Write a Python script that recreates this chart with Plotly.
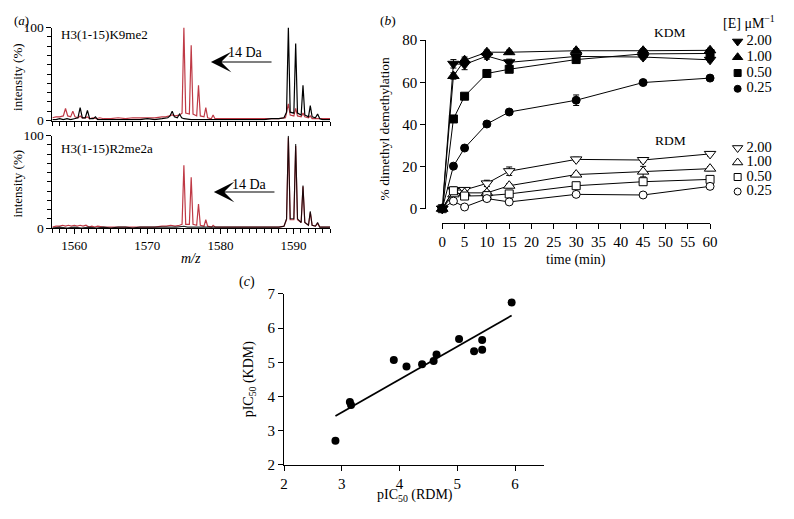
import numpy as np
import plotly.graph_objects as go

# The page keeps the browser's default 8 px body margin, so the figure is made
# 16 px smaller than the window and positions are given in window pixels.
WIN_W, WIN_H, OFF = 794, 519, 8
W, H = WIN_W - 2 * OFF, WIN_H - 2 * OFF
FONT = "Liberation Serif"
RED = "#bf3a46"

def px(x):
    return (x - OFF) / W

def py(y):
    return 1 - (y - OFF) / H

# ---------------- Panel (a): mass spectra ----------------
k9_red_mz = [1557.0, 1557.5, 1558.0, 1558.5, 1558.8, 1559.1, 1559.5, 1559.8, 1560.1, 1560.5, 1560.8, 1561.1,
             1561.5, 1561.8, 1562.1, 1562.5, 1563.0, 1563.5, 1564.0, 1565.0, 1566.0, 1567.0, 1568.0, 1569.0,
             1570.0, 1571.0, 1572.0, 1572.5, 1573.0, 1573.4, 1573.8, 1574.4, 1574.75, 1575.0, 1575.25, 1575.75,
             1576.0, 1576.25, 1576.75, 1577.0, 1577.25, 1577.75, 1578.0, 1578.25, 1578.75, 1579.0, 1579.25,
             1580.0, 1581.0, 1582.0, 1583.0, 1584.0, 1585.0, 1586.0, 1587.0, 1588.0, 1588.9, 1589.3, 1589.55,
             1590.05, 1590.3, 1590.55, 1591.05, 1591.3, 1591.55, 1592.05, 1592.3, 1592.55, 1593.0, 1594.0, 1595.0]
k9_red_int = [3, 4, 4, 5, 13, 5, 4, 10, 4, 3, 5, 3,
              3, 4, 2, 3, 2, 3, 2, 2, 3, 2, 3, 3,
              3, 3, 4, 4, 5, 6, 5, 6, 8, 100, 8, 7,
              81, 7, 5, 38, 5, 4, 14, 3, 2, 6, 2,
              2, 2, 2, 2, 2, 2, 2, 2, 2, 3, 18, 6,
              5, 13, 5, 4, 8, 4, 3, 5, 2, 2, 2, 2]

k9_blk_mz = [1557.0, 1557.5, 1558.0, 1558.5, 1559.0, 1559.5, 1560.0, 1560.5, 1560.8, 1561.1, 1561.5, 1561.8,
             1562.1, 1562.6, 1562.9, 1563.2, 1564.0, 1565.0, 1566.0, 1567.0, 1568.0, 1569.0, 1570.0, 1571.0,
             1572.0, 1572.8, 1573.1, 1573.4, 1573.7, 1574.1, 1574.4, 1574.7, 1575.0, 1576.0, 1577.0, 1578.0,
             1579.0, 1580.0, 1581.0, 1582.0, 1583.0, 1584.0, 1585.0, 1586.0, 1587.0, 1588.0, 1588.7, 1589.05,
             1589.3, 1589.55, 1590.05, 1590.3, 1590.55, 1591.05, 1591.3, 1591.55, 1592.05, 1592.3, 1592.55,
             1593.0, 1593.3, 1593.6, 1594.0, 1595.0]
k9_blk_int = [1, 1, 2, 1, 2, 1, 2, 3, 14, 3, 3, 11,
              2, 2, 4, 1, 1, 1, 1, 1, 1, 1, 2, 1,
              2, 3, 5, 10, 4, 3, 7, 3, 2, 1, 1, 1,
              1, 1, 1, 1, 1, 1, 1, 1, 2, 2, 3, 9,
              100, 9, 8, 83, 8, 6, 38, 6, 4, 16, 4,
              3, 7, 2, 1, 1]

r2_red_mz = [1557.0, 1557.5, 1558.0, 1558.4, 1558.8, 1559.2, 1559.6, 1560.0, 1560.4, 1560.8, 1561.2, 1561.6,
             1562.0, 1562.4, 1562.8, 1563.2, 1564.0, 1565.0, 1566.0, 1567.0, 1568.0, 1569.0, 1570.0, 1571.0,
             1572.0, 1572.6, 1573.2, 1573.8, 1574.4, 1574.75, 1575.0, 1575.25, 1575.75, 1576.0, 1576.25,
             1576.75, 1577.0, 1577.25, 1577.75, 1578.0, 1578.25, 1578.8, 1579.0, 1579.3, 1580.0, 1581.0,
             1582.0, 1583.0, 1584.0, 1585.0, 1586.0, 1587.0, 1588.0, 1588.7, 1589.05, 1589.3, 1589.55,
             1590.05, 1590.3, 1590.55, 1591.05, 1591.3, 1591.55, 1592.05, 1592.3, 1592.55, 1593.0, 1593.3,
             1593.6, 1594.0, 1595.0]
r2_red_int = [1, 2, 2, 3, 2, 3, 2, 3, 2, 3, 2, 3,
              1, 2, 1, 2, 1, 1, 1, 1, 1, 1, 1, 1,
              2, 2, 3, 2, 3, 4, 68, 4, 4, 55, 4,
              3, 26, 3, 2, 9, 2, 1, 3, 1, 1, 1,
              1, 1, 1, 1, 1, 1, 1, 2, 9, 98, 9,
              9, 89, 9, 6, 45, 6, 3, 17, 3, 2, 5,
              1, 1, 1]

r2_blk_mz = [1557.0, 1558.0, 1559.0, 1560.0, 1561.0, 1562.0, 1563.0, 1564.0, 1565.0, 1566.0, 1567.0, 1568.0,
             1569.0, 1570.0, 1571.0, 1572.0, 1573.0, 1574.0, 1575.0, 1575.5, 1576.0, 1577.0, 1578.0, 1579.0,
             1580.0, 1581.0, 1582.0, 1583.0, 1584.0, 1585.0, 1586.0, 1587.0, 1588.0, 1588.7, 1589.05, 1589.3,
             1589.55, 1590.05, 1590.3, 1590.55, 1591.05, 1591.3, 1591.55, 1592.05, 1592.3, 1592.55, 1593.0,
             1593.3, 1593.6, 1594.0, 1595.0]
r2_blk_int = [0, 1, 0, 1, 0, 1, 0, 1, 0, 1, 1, 0,
              1, 1, 1, 1, 1, 1, 2, 1, 1, 1, 1, 1,
              1, 1, 1, 1, 1, 1, 1, 1, 1, 2, 10, 100,
              10, 10, 91, 10, 6, 46, 6, 3, 18, 3, 2,
              6, 1, 1, 1]

mz_ticks = [1560, 1570, 1580, 1590]
intensity_ticks = [0, 100]

# ---------------- Panel (b): time course ----------------
time_min = [0, 2.5, 5, 10, 15, 30, 45, 60]
conc_labels = ["2.00", "1.00", "0.50", "0.25"]
kdm_200 = [0, 68.8, 68.5, 72.5, 69.5, 72.3, 72.0, 70.7]
kdm_100 = [0, 63.0, 70.5, 74.3, 74.3, 75.0, 75.0, 75.2]
kdm_050 = [-1.0, 42.6, 53.4, 64.2, 66.2, 70.8, 73.5, 73.7]
kdm_025 = [0, 20.2, 28.8, 40.2, 45.9, 51.5, 59.9, 62.0]
rdm_200 = [0, 8.8, 8.9, 12.0, 17.8, 23.4, 23.1, 26.0]
rdm_100 = [0, 6.8, 7.5, 7.5, 10.9, 16.2, 17.6, 19.0]
rdm_050 = [0, 8.5, 6.0, 6.2, 7.0, 10.9, 12.8, 13.9]
rdm_025 = [0, 3.6, 0.8, 4.8, 3.2, 6.8, 6.5, 10.6]
kdm_200_err = [0, 2.0, 2.5, 1.5, 1.5, 1.0, 1.0, 1.0]
kdm_100_err = [0, 1.5, 1.5, 1.0, 1.0, 1.0, 1.0, 1.0]
kdm_050_err = [0, 1.0, 1.0, 1.0, 1.0, 1.0, 1.0, 1.0]
kdm_025_err = [0, 1.0, 1.0, 1.0, 1.0, 2.5, 1.0, 1.0]
rdm_200_err = [0, 1.5, 1.0, 1.5, 2.0, 1.0, 1.0, 1.0]
rdm_100_err = [0, 1.0, 1.0, 1.0, 1.0, 1.0, 2.5, 1.0]
rdm_050_err = [0, 1.0, 1.0, 1.0, 1.0, 1.0, 1.0, 1.0]
rdm_025_err = [0, 1.0, 1.0, 1.0, 1.0, 1.0, 1.0, 1.0]

# ---------------- Panel (c): pIC50 correlation ----------------
pic50_rdm = [2.89, 3.14, 3.16, 3.90, 4.12, 4.39, 4.59, 4.64, 5.03, 5.29, 5.43, 5.43, 5.94]
pic50_kdm = [2.71, 3.84, 3.75, 5.07, 4.88, 4.94, 5.04, 5.23, 5.68, 5.32, 5.37, 5.65, 6.75]

fig = go.Figure()

# panel a traces
fig.add_trace(go.Scatter(x=k9_red_mz, y=k9_red_int, mode="lines", line=dict(color=RED, width=1.2),
                         xaxis="x", yaxis="y", showlegend=False))
fig.add_trace(go.Scatter(x=k9_blk_mz, y=k9_blk_int, mode="lines", line=dict(color="black", width=1.2),
                         xaxis="x", yaxis="y", showlegend=False))
fig.add_trace(go.Scatter(x=r2_red_mz, y=r2_red_int, mode="lines", line=dict(color=RED, width=1.2),
                         xaxis="x2", yaxis="y2", showlegend=False))
fig.add_trace(go.Scatter(x=r2_blk_mz, y=r2_blk_int, mode="lines", line=dict(color="black", width=1.1),
                         xaxis="x2", yaxis="y2", showlegend=False, opacity=0.85))

# panel b traces
kdm_series = [(kdm_200, kdm_200_err, "triangle-down"), (kdm_100, kdm_100_err, "triangle-up"),
              (kdm_050, kdm_050_err, "square"), (kdm_025, kdm_025_err, "circle")]
rdm_series = [(rdm_200, rdm_200_err, "triangle-down"), (rdm_100, rdm_100_err, "triangle-up"),
              (rdm_050, rdm_050_err, "square"), (rdm_025, rdm_025_err, "circle")]

def msize(sym):
    return 10 if sym.startswith("triangle") else 8

for vals, err, sym in rdm_series:
    fig.add_trace(go.Scatter(x=time_min, y=vals, mode="lines+markers",
                             error_y=dict(type="data", array=err, color="black", thickness=1, width=3),
                             line=dict(color="black", width=1),
                             marker=dict(symbol=sym, size=msize(sym), color="white",
                                         line=dict(color="black", width=1)),
                             xaxis="x3", yaxis="y3", showlegend=False, cliponaxis=False))
for vals, err, sym in kdm_series:
    fig.add_trace(go.Scatter(x=time_min, y=vals, mode="lines+markers",
                             error_y=dict(type="data", array=err, color="black", thickness=1, width=3),
                             line=dict(color="black", width=1),
                             marker=dict(symbol=sym, size=msize(sym), color="black",
                                         line=dict(color="black", width=1)),
                             xaxis="x3", yaxis="y3", showlegend=False, cliponaxis=False))

# key for panel b (drawn on a hidden helper axis measured in window pixels)
kdm_rows = 34.3 + 16.3 * np.arange(len(conc_labels))
rdm_rows = 144.3 + 15.0 * np.arange(len(conc_labels))
for rows, fill, series in [(kdm_rows, "black", kdm_series), (rdm_rows, "white", rdm_series)]:
    for row, (vals, err, sym) in zip(rows, series):
        fig.add_trace(go.Scatter(x=[745], y=[row], mode="markers",
                                 marker=dict(symbol=sym, size=msize(sym) - 1, color=fill,
                                             line=dict(color="black", width=1)),
                                 xaxis="x5", yaxis="y5", showlegend=False, cliponaxis=False))
    fig.add_trace(go.Scatter(x=[754] * len(rows), y=list(rows), mode="text", text=conc_labels,
                             textposition="middle right",
                             textfont=dict(family=FONT, size=14.5, color="black"),
                             xaxis="x5", yaxis="y5", showlegend=False, cliponaxis=False))

# panel c traces
fig.add_trace(go.Scatter(x=pic50_rdm, y=pic50_kdm, mode="markers",
                         marker=dict(symbol="circle", size=8, color="black"),
                         xaxis="x4", yaxis="y4", showlegend=False, cliponaxis=False))
slope, intercept = np.polyfit(pic50_rdm, pic50_kdm, 1)
fit_x = np.array([min(pic50_rdm), max(pic50_rdm)])
fig.add_trace(go.Scatter(x=fit_x, y=slope * fit_x + intercept, mode="lines",
                         line=dict(color="black", width=1.8),
                         xaxis="x4", yaxis="y4", showlegend=False))

# ---------------- Axes ----------------
def tf(size):
    return dict(family=FONT, size=size, color="black")

base = dict(showline=True, linecolor="black", linewidth=1, ticks="outside", tickcolor="black",
            tickwidth=1, ticklen=5, showgrid=False, zeroline=False)

xa_dom = [px(49), px(331)]
fig.update_layout(
    xaxis=dict(base, domain=xa_dom, range=[1557, 1595], anchor="y", tickmode="array",
               tickvals=mz_ticks, showticklabels=False, tickfont=tf(13),
               minor=dict(ticks="outside", dtick=1, ticklen=4, tickcolor="black")),
    yaxis=dict(base, domain=[py(116), py(20)], range=[0, 100], anchor="x", tickmode="array",
               tickvals=intensity_ticks, tickfont=tf(13.5),
               minor=dict(ticks="outside", dtick=10, ticklen=4, tickcolor="black")),
    xaxis2=dict(base, domain=xa_dom, range=[1557, 1595], anchor="y2", tickmode="array",
                tickvals=mz_ticks, tickfont=tf(13),
                minor=dict(ticks="outside", dtick=1, ticklen=4, tickcolor="black")),
    yaxis2=dict(base, domain=[py(227), py(131.7)], range=[0, 100], anchor="x2", tickmode="array",
                tickvals=intensity_ticks, tickfont=tf(13.5),
                minor=dict(ticks="outside", dtick=10, ticklen=4, tickcolor="black")),
    xaxis3=dict(base, domain=[px(445), px(717)], range=[0, 60], anchor="free", position=py(222),
                dtick=5, tick0=0, tickfont=tf(15)),
    yaxis3=dict(base, domain=[py(207), py(33)], range=[0, 80], anchor="free", position=px(427.7),
                dtick=20, tick0=0, tickfont=tf(15)),
    xaxis4=dict(base, domain=[px(284.3), px(548.3)], range=[2, 6.5], anchor="y4", dtick=1, tick0=2,
                tickfont=tf(15)),
    yaxis4=dict(base, domain=[py(471.7), py(295)], range=[2, 7], anchor="x4", dtick=1, tick0=2,
                tickfont=tf(15)),
    xaxis5=dict(domain=[px(735), px(785)], range=[735, 785], visible=False, anchor="y5"),
    yaxis5=dict(domain=[py(200), py(20)], range=[200, 20], visible=False, anchor="x5"),
)

# ---------------- Annotations ----------------
ann = []

def text(x, y, s, size=14, angle=0, xanchor="center"):
    ann.append(dict(x=px(x), y=py(y), xref="paper", yref="paper", text=s, showarrow=False,
                    textangle=angle, xanchor=xanchor, yanchor="middle",
                    font=dict(family=FONT, size=size, color="black")))

text(8, 13, "(<i>a</i>)", 13, xanchor="left")
text(390, 13, "(<i>b</i>)", 13.5)
text(247, 283, "(<i>c</i>)", 14)
text(56, 27, "H3(1-15)K9me2", 13, xanchor="left")
text(56, 145, "H3(1-15)R2me2a", 13, xanchor="left")
text(245, 46, "14 Da", 14)
text(249, 182, "14 Da", 14)
text(14, 71, "intensity (%)", 13, angle=-90)
text(14, 181, "intensity (%)", 13, angle=-90)
text(190, 258, "<i>m/z</i>", 14)
text(386, 125, "% dimethyl demethylation", 13.5, angle=-90)
text(581, 260, "time (min)", 14)
text(676.7, 25, "KDM", 13.5)
text(676.7, 137, "RDM", 13.5)
text(785, 14, "[E] μM<sup>−1</sup>", 14, xanchor="right")
text(249, 383, "pIC<sub>50</sub> (KDM)", 14, angle=-90)
text(417, 503, "pIC<sub>50</sub> (RDM)", 14)

# 14 Da shift arrows
ann.append(dict(x=1578.7, y=63, ax=1587.2, ay=63, xref="x", yref="y", axref="x", ayref="y",
                text="", showarrow=True, arrowhead=3, arrowsize=3.1, arrowwidth=1.1, arrowcolor="black"))
ann.append(dict(x=1579.1, y=39, ax=1587.6, ay=39, xref="x2", yref="y2", axref="x2", ayref="y2",
                text="", showarrow=True, arrowhead=3, arrowsize=3.1, arrowwidth=1.1, arrowcolor="black"))

fig.update_layout(
    annotations=ann,
    width=W, height=H, autosize=False,
    margin=dict(l=0, r=0, t=0, b=0),
    paper_bgcolor="white", plot_bgcolor="white",
    font=dict(family=FONT, size=14, color="black"),
    showlegend=False,
)

fig.write_html("out.html", config={"displayModeBar": False})
